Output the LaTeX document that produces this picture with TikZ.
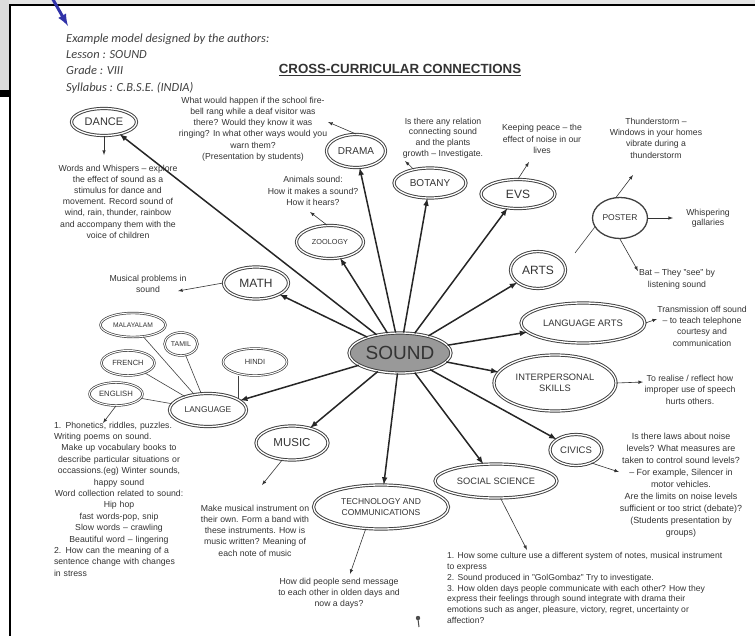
\documentclass[tikz,border=0pt]{standalone}
\usepackage{fontspec}
\setmainfont{Liberation Sans}
\newfontfamily\headfont{Carlito}
\usepackage{tikz}
\usetikzlibrary{shapes.geometric}
\usetikzlibrary{positioning}
\definecolor{penblue}{RGB}{48,50,168}
\tikzset{
  topic/.style={ellipse, draw=black!75, double, double distance=1.3pt, line width=0.95pt,
    inner sep=0pt, align=center, text=black!80},
  note/.style={align=center, inner sep=0pt, text=black!80, font=\fontsize{8.7}{11.2}\selectfont},
  link/.style={-latex, line width=1.5pt, black!85},
  tip/.style={-latex, line width=0.6pt, black!80},
  twig/.style={line width=0.6pt, black!75}
}

\begin{document}
\begin{tikzpicture}[x=1pt,y=-1pt]
\useasboundingbox (0,0) rectangle (755,635);
% edges of the scanned page
\fill[black!10] (0,0) rectangle (755,5);
\fill[black!14] (0,0) rectangle (9,90);
\fill[black] (0,90) rectangle (9,97);
\draw[line width=2pt] (10,636) -- (10,5) -- (756,5);
\coordinate (pentail) at (51,-4);
\coordinate (pentip) at (68,26);
\draw[penblue, line width=3pt, -latex] (pentail) -- (pentip);

%% heading
\node[anchor=west, align=left, inner sep=0pt, text=black!75,
  font=\headfont\itshape\fontsize{12.4}{16.3}\selectfont] (header) at (66,63.5)
  {Example model designed by the authors:\\ Lesson : SOUND\\ Grade : VIII\\ Syllabus : C.B.S.E. (INDIA)};
\node[text=black!80, font=\bfseries\fontsize{13.3}{15}\selectfont] (title) at (400,70)
  {\underline{CROSS-CURRICULAR CONNECTIONS}};

%% the centre
\node[topic, fill=black!40, minimum width=102, minimum height=40, font=\fontsize{19}{21}\selectfont] (sound) at (400,353) {SOUND};

%% subjects round the centre
\node[topic, minimum width=65, minimum height=27, font=\fontsize{11}{13}\selectfont] (dance) at (104,122) {DANCE};
\node[topic, minimum width=59, minimum height=33, font=\fontsize{10}{12}\selectfont] (drama) at (356,151) {DRAMA};
\node[topic, minimum width=72, minimum height=30, font=\fontsize{10}{12}\selectfont] (botany) at (430,183) {BOTANY};
\node[topic, minimum width=74, minimum height=29, font=\fontsize{12}{14}\selectfont] (evs) at (518,194) {EVS};
\node[topic, minimum width=67, minimum height=33, font=\fontsize{7.3}{9}\selectfont] (zoology) at (330,242) {ZOOLOGY};
\node[topic, minimum width=65, minimum height=32, font=\fontsize{12}{14}\selectfont] (math) at (256,283) {MATH};
\node[topic, minimum width=55, minimum height=37, font=\fontsize{12}{14}\selectfont] (arts) at (538,270) {ARTS};
\node[ellipse, draw=black!75, line width=1.3pt, inner sep=0pt, text=black!80,
  minimum width=55, minimum height=41, font=\fontsize{8.5}{10}\selectfont] (poster) at (620,218) {POSTER};
\node[topic, minimum width=124, minimum height=40, font=\fontsize{9.4}{11}\selectfont] (langarts) at (583,323) {LANGUAGE ARTS};
\node[topic, minimum width=122, minimum height=56, font=\fontsize{9.3}{11}\selectfont] (inter) at (555,383) {INTERPERSONAL\\ SKILLS};
\node[topic, minimum width=52, minimum height=31, font=\fontsize{9.5}{11}\selectfont] (civics) at (576,450) {CIVICS};
\node[topic, minimum width=122, minimum height=34, font=\fontsize{9.3}{11}\selectfont] (social) at (496,481) {SOCIAL SCIENCE};
\node[topic, minimum width=135, minimum height=44, font=\fontsize{8.5}{11}\selectfont] (tech) at (381,507) {TECHNOLOGY AND\\ COMMUNICATIONS};
\node[topic, minimum width=72, minimum height=34, font=\fontsize{11.5}{13}\selectfont] (music) at (292,443) {MUSIC};
\node[topic, minimum width=77, minimum height=33, font=\fontsize{8.4}{10}\selectfont] (language) at (208,410) {LANGUAGE};

%% languages
\node[topic, double distance=1pt, line width=0.7pt, minimum width=64, minimum height=27, font=\fontsize{7.5}{9}\selectfont] (hindi) at (255,362) {HINDI};
\node[topic, double distance=1pt, line width=0.7pt, minimum width=65, minimum height=24, font=\fontsize{6.7}{8}\selectfont] (malayalam) at (133,325) {MALAYALAM};
\node[topic, double distance=1pt, line width=0.7pt, minimum width=33, minimum height=23, font=\fontsize{7}{8}\selectfont] (tamil) at (181,344) {TAMIL};
\node[topic, double distance=1pt, line width=0.7pt, minimum width=53, minimum height=25, font=\fontsize{7.5}{9}\selectfont] (french) at (128,363) {FRENCH};
\node[topic, double distance=1pt, line width=0.7pt, minimum width=53, minimum height=23, font=\fontsize{7.7}{9}\selectfont] (english) at (116,394) {ENGLISH};

%% thick arrows out of SOUND
\foreach \subj in {dance,drama,zoology,botany,evs,arts,langarts,inter,civics,social,tech,music,language,math}
  \draw[link] (sound) -- (\subj);

\draw[twig] (language) -- (malayalam);
\draw[twig] (language) -- (tamil);
\draw[twig] (language) -- (french);
\draw[twig] (language) -- (english);
\draw[twig] (language.20) -- (language.20 |- hindi.south);

%% notes
\node[note] (dancetext) at (118,201.5) {Words and Whispers -- explore\\ the effect of sound as a\\ stimulus for dance and\\ movement. Record sound of\\ wind, rain, thunder, rainbow\\ and accompany them with the\\ voice of children};
\node[note] (dramatext) at (253,129) {What would happen if the school fire-\\ bell rang while a deaf visitor was\\ there? Would they know it was\\ ringing? In what other ways would you\\ warn them?\\ (Presentation by students)};
\node[note, font=\fontsize{8.7}{10.7}\selectfont] (botanytext) at (443,138) {Is there any relation\\ connecting sound\\ and the plants\\ growth -- Investigate.};
\node[note] (evstext) at (542,139) {Keeping peace -- the\\ effect of noise in our\\ lives};
\node[note] (zoologytext) at (313,191) {Animals sound:\\ How it makes a sound?\\ How it hears?};
\node[note] (mathtext) at (148,283.5) {Musical problems in\\ sound};
\node[note, font=\fontsize{8.7}{11.3}\selectfont] (thundertext) at (656,138) {Thunderstorm --\\ Windows in your homes\\ vibrate during a\\ thunderstorm};
\node[note, font=\fontsize{8.7}{10}\selectfont] (whispertext) at (708,218) {Whispering\\ gallaries};
\node[note, font=\fontsize{8.7}{12}\selectfont] (battext) at (677,279) {Bat -- They "see" by\\ listening sound};
\node[note, font=\fontsize{8.7}{11.3}\selectfont] (langartstext) at (702,326) {Transmission off sound\\ -- to teach telephone\\ courtesy and\\ communication};
\node[note, font=\fontsize{8.7}{11.5}\selectfont] (intertext) at (690,389.5) {To realise / reflect how\\ improper use of speech\\ hurts others.};
\node[note, font=\fontsize{8.9}{12}\selectfont] (civicstext) at (681,485) {Is there laws about noise\\ levels? What measures are\\ taken to control sound levels?\\ -- For example, Silencer in\\ motor vehicles.\\ Are the limits on noise levels\\ sufficient or too strict (debate)?\\ (Students presentation by\\ groups)};
\node[note, anchor=west, align=left, font=\fontsize{8.6}{10.7}\selectfont] (socialtext) at (447,588) {1. How some culture use a different system of notes, musical instrument\\ to express\\ 2. Sound produced in "GolGombaz" Try to investigate.\\ 3. How olden days people communicate with each other? How they\\ express their feelings through sound integrate with drama their\\ emotions such as anger, pleasure, victory, regret, uncertainty or\\ affection?};
\node[note, font=\fontsize{8.7}{11}\selectfont] (techtext) at (339,593) {How did people send message\\ to each other in olden days and\\ now a days?};
\node[note] (musictext) at (255,530.5) {Make musical instrument on\\ their own. Form a band with\\ these instruments. How is\\ music written? Meaning of\\ each note of music};
\node[note, text width=130pt, font=\fontsize{8.7}{11.4}\selectfont] (langtext) at (119,499) {1. Phonetics, riddles, puzzles.\hfill\null\\ Writing poems on sound.\hfill\null\\ Make up vocabulary books to\\ describe particular situations or\\ occassions.(eg) Winter sounds,\\ happy sound\\ Word collection related to sound:\\ Hip hop\\ fast words-pop, snip\\ Slow words -- crawling\\ Beautiful word -- lingering\\ 2. How can the meaning of a\hfill\null\\ sentence change with changes\hfill\null\\ in stress\hfill\null};

%% thin arrows to the notes
\coordinate (dancetip) at (104,155);
\coordinate (dramatip) at (328,122);
\coordinate (botanytip) at (405,161);
\coordinate (evstip) at (529,162);
\coordinate (zoologytip) at (310,212);
\coordinate (mathtip) at (178,291);
\coordinate (thundertip) at (633,175);
\coordinate (whispertip) at (673,218);
\coordinate (battip) at (638,271);
\coordinate (artsgap) at (575,253);
\coordinate (langartstip) at (657,319);
\coordinate (intertip) at (643,382);
\coordinate (civicstip) at (619,472);
\coordinate (socialtip) at (527,550);
\coordinate (techtip) at (350,574);
\coordinate (musictip) at (262,485);
\coordinate (englishtip) at (103,423);
\draw[tip] (dance.south) -- (dancetip);
\draw[tip] (drama.north) -- (dramatip);
\draw[tip] (botany.140) -- (botanytip);
\draw[tip] (evs.north) -- (evstip);
\draw[tip] (zoology.100) -- (zoologytip);
\draw[tip] (math.west) -- (mathtip);
\draw[tip] (poster.100) -- (thundertip);
\draw[tip] (poster.east) -- (whispertip);
\draw[tip] (poster.south) -- (battip);
\draw[twig] (poster.200) -- (artsgap);
\draw[tip] (langarts.east) -- (langartstip);
\draw[tip] (inter.east) -- (intertip);
\draw[tip] (civics.320) -- (civicstip);
\draw[tip] (social.285) -- (socialtip);
\draw[tip] (tech.235) -- (techtip);
\draw[tip] (music.240) -- (musictip);
\draw[tip] (english.south) -- (englishtip);

% speck on the scan
\fill[black!70] (418,618) circle (2.2);
\draw[black!70, line width=1pt] (418,619) -- (419,627);
\end{tikzpicture}
\end{document}
